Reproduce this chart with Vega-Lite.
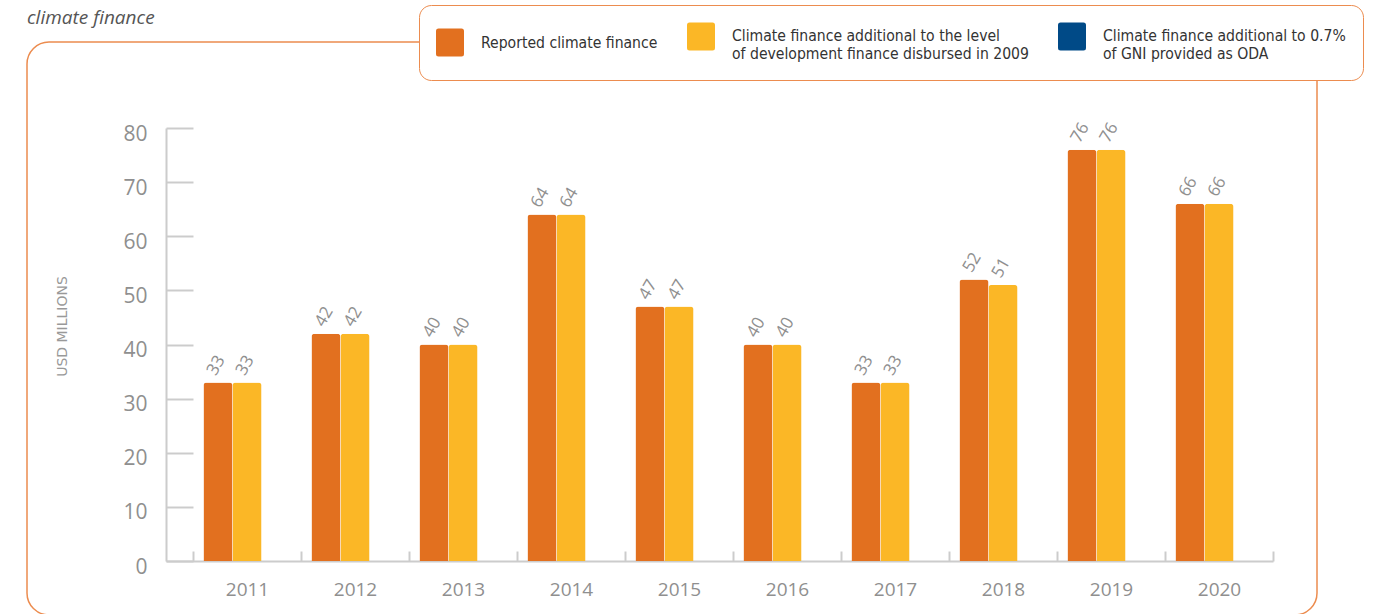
{
  "$schema": "https://vega.github.io/schema/vega-lite/v6.json",
  "autosize": "none",
  "width": 1290,
  "height": 573,
  "padding": {"left": 27, "top": 42, "right": 56, "bottom": 0},
  "background": "white",
  "title": {
    "text": "climate finance",
    "anchor": "start",
    "frame": "group",
    "fontStyle": "italic",
    "fontWeight": "normal",
    "fontSize": 19,
    "font": "Open Sans",
    "color": "#555555",
    "offset": 14,
    "dy": 37
  },
  "data": {
    "values": [
      {"year": "2011", "series": "Reported climate finance", "value": 33},
      {"year": "2011", "series": "Climate finance additional to the level of development finance disbursed in 2009", "value": 33},
      {"year": "2012", "series": "Reported climate finance", "value": 42},
      {"year": "2012", "series": "Climate finance additional to the level of development finance disbursed in 2009", "value": 42},
      {"year": "2013", "series": "Reported climate finance", "value": 40},
      {"year": "2013", "series": "Climate finance additional to the level of development finance disbursed in 2009", "value": 40},
      {"year": "2014", "series": "Reported climate finance", "value": 64},
      {"year": "2014", "series": "Climate finance additional to the level of development finance disbursed in 2009", "value": 64},
      {"year": "2015", "series": "Reported climate finance", "value": 47},
      {"year": "2015", "series": "Climate finance additional to the level of development finance disbursed in 2009", "value": 47},
      {"year": "2016", "series": "Reported climate finance", "value": 40},
      {"year": "2016", "series": "Climate finance additional to the level of development finance disbursed in 2009", "value": 40},
      {"year": "2017", "series": "Reported climate finance", "value": 33},
      {"year": "2017", "series": "Climate finance additional to the level of development finance disbursed in 2009", "value": 33},
      {"year": "2018", "series": "Reported climate finance", "value": 52},
      {"year": "2018", "series": "Climate finance additional to the level of development finance disbursed in 2009", "value": 51},
      {"year": "2019", "series": "Reported climate finance", "value": 76},
      {"year": "2019", "series": "Climate finance additional to the level of development finance disbursed in 2009", "value": 76},
      {"year": "2020", "series": "Reported climate finance", "value": 66},
      {"year": "2020", "series": "Climate finance additional to the level of development finance disbursed in 2009", "value": 66}
    ]
  },
  "encoding": {
    "x": {
      "field": "year",
      "type": "nominal",
      "scale": {"range": [139, 1246], "paddingInner": 0, "paddingOuter": 0.125, "align": 1},
      "axis": {
        "orient": "bottom",
        "offset": -54,
        "title": null,
        "labelAngle": 0,
        "tickBand": "extent",
        "tickSize": -10,
        "tickWidth": 2,
        "tickColor": "#cccccc",
        "domainColor": "#cccccc",
        "domainWidth": 2,
        "labelFont": "Open Sans",
        "labelFontSize": 19,
        "labelColor": "#8f8f8f",
        "labelPadding": 29
      }
    },
    "xOffset": {
      "field": "series",
      "type": "nominal",
      "scale": {
        "domain": ["Reported climate finance", "Climate finance additional to the level of development finance disbursed in 2009", "Climate finance additional to 0.7% of GNI provided as ODA"],
        "paddingInner": 0,
        "paddingOuter": 0.36
      }
    },
    "y": {
      "field": "value",
      "type": "quantitative",
      "scale": {"domain": [0, 80], "range": [519, 86], "nice": false, "zero": true},
      "axis": {
        "title": "USD MILLIONS",
        "values": [0, 10, 20, 30, 40, 50, 60, 70, 80],
        "offset": -139,
        "grid": false,
        "tickSize": -27,
        "tickWidth": 2,
        "tickColor": "#cccccc",
        "domainColor": "#cccccc",
        "domainWidth": 2,
        "labelFont": "Open Sans",
        "labelFontSize": 21,
        "labelColor": "#8f8f8f",
        "labelPadding": 46,
        "labelOffset": 6,
        "titleFont": "DejaVu Sans",
        "titleFontSize": 14,
        "titleFontWeight": "normal",
        "titleColor": "#999999",
        "titleAngle": -90,
        "titleAlign": "center",
        "titleBaseline": "middle",
        "titleX": -104,
        "titleY": 284
      }
    }
  },
  "layer": [
    {
      "mark": {"type": "bar", "cornerRadiusTopLeft": 3, "cornerRadiusTopRight": 3},
      "encoding": {
        "color": {
          "field": "series",
          "type": "nominal",
          "scale": {
            "domain": ["Reported climate finance", "Climate finance additional to the level of development finance disbursed in 2009", "Climate finance additional to 0.7% of GNI provided as ODA"],
            "range": ["#e2701f", "#fbb726", "#004a87"]
          },
          "legend": {
            "title": null,
            "orient": "none",
            "legendX": 392,
            "legendY": -37,
            "direction": "horizontal",
            "fillColor": "white",
            "strokeColor": "#ec8c4f",
            "cornerRadius": 12,
            "padding": 17,
            "symbolType": "M-0.82,-1L0.82,-1Q1,-1 1,-0.82L1,0.82Q1,1 0.82,1L-0.82,1Q-1,1 -1,0.82L-1,-0.82Q-1,-1 -0.82,-1Z",
            "symbolSize": 784,
            "symbolStrokeWidth": 0,
            "labelFont": "DejaVu Sans Condensed",
            "labelFontSize": 15.6,
            "labelColor": "#333333",
            "labelOffset": 17,
            "columnPadding": 29,
            "labelLimit": 400,
            "labelExpr": "datum.label == 'Climate finance additional to the level of development finance disbursed in 2009' ? ['Climate finance additional to the level', 'of development finance disbursed in 2009'] : datum.label == 'Climate finance additional to 0.7% of GNI provided as ODA' ? ['Climate finance additional to 0.7%', 'of GNI provided as ODA'] : datum.label"
          }
        }
      }
    },
    {
      "mark": {"type": "text", "angle": -60, "align": "left", "baseline": "middle", "dx": 4, "dy": -10, "font": "Open Sans", "fontSize": 17, "color": "#8f8f8f"},
      "encoding": {
        "text": {"field": "value", "type": "quantitative"}
      }
    }
  ],
  "config": {
    "view": {"stroke": "#ec8c4f", "strokeWidth": 1.5, "cornerRadius": 22}
  }
}
